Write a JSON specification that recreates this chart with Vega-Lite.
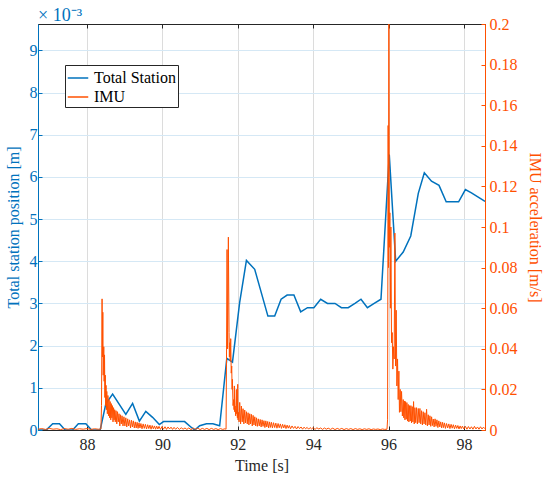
{
  "$schema": "https://vega.github.io/schema/vega-lite/v6.json",
  "width": 447,
  "height": 406,
  "autosize": {"type": "none"},
  "padding": {"left": 38, "top": 24, "right": 65, "bottom": 51},
  "background": "white",
  "title": {
    "text": "× 10⁻³",
    "anchor": "start",
    "frame": "group",
    "color": "#0072BD",
    "font": "Liberation Serif",
    "fontSize": 18,
    "fontWeight": "normal",
    "offset": -9
  },
  "config": {
    "view": {"stroke": "#262626", "strokeWidth": 1},
    "font": "Liberation Serif",
    "style": {
      "guide-label": {"font": "Liberation Serif"},
      "guide-title": {"font": "Liberation Serif"}
    },
    "legend": {"labelFont": "Liberation Serif"},
    "axis": {
      "labelFont": "Liberation Serif",
      "labelFontSize": 16,
      "titleFont": "Liberation Serif",
      "titleFontSize": 16,
      "titleFontWeight": "normal",
      "tickSize": -4,
      "domainWidth": 1,
      "gridWidth": 1
    }
  },
  "datasets": {
    "ts": [
      {"t": 86.70, "pos": 0},
      {"t": 86.92, "pos": 0},
      {"t": 87.09, "pos": 0.00015},
      {"t": 87.27, "pos": 0.00015},
      {"t": 87.42, "pos": 0},
      {"t": 87.62, "pos": 0},
      {"t": 87.77, "pos": 0.00015},
      {"t": 87.97, "pos": 0.00015},
      {"t": 88.12, "pos": 0},
      {"t": 88.35, "pos": 0},
      {"t": 88.50, "pos": 0.00062},
      {"t": 88.68, "pos": 0.00085},
      {"t": 89.03, "pos": 0.00037},
      {"t": 89.21, "pos": 0.00063},
      {"t": 89.39, "pos": 0.00021},
      {"t": 89.56, "pos": 0.00044},
      {"t": 89.74, "pos": 0.00030},
      {"t": 89.92, "pos": 0.00013},
      {"t": 90.03, "pos": 0.0002},
      {"t": 90.59, "pos": 0.0002},
      {"t": 90.77, "pos": 0.00006},
      {"t": 90.86, "pos": 0},
      {"t": 90.99, "pos": 0.0001},
      {"t": 91.17, "pos": 0.00015},
      {"t": 91.34, "pos": 0.00015},
      {"t": 91.52, "pos": 0.0001},
      {"t": 91.71, "pos": 0.0017},
      {"t": 91.86, "pos": 0.00161},
      {"t": 92.05, "pos": 0.00302},
      {"t": 92.23, "pos": 0.00402},
      {"t": 92.45, "pos": 0.00381},
      {"t": 92.80, "pos": 0.0027},
      {"t": 92.98, "pos": 0.0027},
      {"t": 93.15, "pos": 0.0031},
      {"t": 93.31, "pos": 0.0032},
      {"t": 93.49, "pos": 0.0032},
      {"t": 93.67, "pos": 0.0028},
      {"t": 93.85, "pos": 0.0029},
      {"t": 94.02, "pos": 0.0029},
      {"t": 94.20, "pos": 0.0031},
      {"t": 94.38, "pos": 0.0030},
      {"t": 94.58, "pos": 0.0030},
      {"t": 94.75, "pos": 0.0029},
      {"t": 94.93, "pos": 0.0029},
      {"t": 95.11, "pos": 0.0030},
      {"t": 95.27, "pos": 0.0031},
      {"t": 95.44, "pos": 0.0029},
      {"t": 95.62, "pos": 0.0030},
      {"t": 95.80, "pos": 0.0031},
      {"t": 96.02, "pos": 0.00653},
      {"t": 96.19, "pos": 0.0040},
      {"t": 96.39, "pos": 0.00422},
      {"t": 96.59, "pos": 0.0046},
      {"t": 96.79, "pos": 0.00561},
      {"t": 96.95, "pos": 0.0061},
      {"t": 97.14, "pos": 0.0059},
      {"t": 97.34, "pos": 0.0058},
      {"t": 97.53, "pos": 0.00541},
      {"t": 97.86, "pos": 0.00541},
      {"t": 98.04, "pos": 0.0057},
      {"t": 98.20, "pos": 0.00562},
      {"t": 98.38, "pos": 0.00552},
      {"t": 98.56, "pos": 0.00542}
    ],
    "imu": [
      {"t": 86.70, "acc": 0.0004}, {"t": 86.80, "acc": 0.0007}, {"t": 86.90, "acc": 0.0003},
      {"t": 87.00, "acc": 0.0008}, {"t": 87.10, "acc": 0.0004}, {"t": 87.20, "acc": 0.0006},
      {"t": 87.30, "acc": 0.0002}, {"t": 87.40, "acc": 0.0007}, {"t": 87.50, "acc": 0.0004},
      {"t": 87.60, "acc": 0.0008}, {"t": 87.70, "acc": 0.0003}, {"t": 87.80, "acc": 0.0006},
      {"t": 87.90, "acc": 0.0004}, {"t": 88.00, "acc": 0.0007}, {"t": 88.10, "acc": 0.0003},
      {"t": 88.20, "acc": 0.0006}, {"t": 88.30, "acc": 0.0004}, {"t": 88.37, "acc": 0.0005},
      {"t": 88.385, "acc": 0.012}, {"t": 88.400, "acc": 0.0646}, {"t": 88.410, "acc": 0.036},
      {"t": 88.420, "acc": 0.058}, {"t": 88.430, "acc": 0.027}, {"t": 88.445, "acc": 0.041},
      {"t": 88.455, "acc": 0.024}, {"t": 88.465, "acc": 0.037}, {"t": 88.475, "acc": 0.016},
      {"t": 88.485, "acc": 0.027}, {"t": 88.495, "acc": 0.012}, {"t": 88.505, "acc": 0.022},
      {"t": 88.515, "acc": 0.010}, {"t": 88.525, "acc": 0.019}, {"t": 88.540, "acc": 0.008},
      {"t": 88.555, "acc": 0.017}, {"t": 88.570, "acc": 0.007}, {"t": 88.585, "acc": 0.015},
      {"t": 88.600, "acc": 0.006}, {"t": 88.615, "acc": 0.014}, {"t": 88.630, "acc": 0.005},
      {"t": 88.645, "acc": 0.013}, {"t": 88.660, "acc": 0.006}, {"t": 88.675, "acc": 0.012},
      {"t": 88.690, "acc": 0.004}, {"t": 88.705, "acc": 0.011}, {"t": 88.720, "acc": 0.005},
      {"t": 88.735, "acc": 0.010}, {"t": 88.750, "acc": 0.004}, {"t": 88.770, "acc": 0.0095},
      {"t": 88.790, "acc": 0.003}, {"t": 88.810, "acc": 0.009}, {"t": 88.830, "acc": 0.004},
      {"t": 88.850, "acc": 0.008}, {"t": 88.870, "acc": 0.002}, {"t": 88.890, "acc": 0.0075},
      {"t": 88.910, "acc": 0.003}, {"t": 88.930, "acc": 0.007}, {"t": 88.955, "acc": 0.002},
      {"t": 88.980, "acc": 0.0065}, {"t": 89.005, "acc": 0.002}, {"t": 89.030, "acc": 0.006},
      {"t": 89.055, "acc": 0.0015}, {"t": 89.080, "acc": 0.0055}, {"t": 89.105, "acc": 0.002},
      {"t": 89.130, "acc": 0.005}, {"t": 89.155, "acc": 0.001}, {"t": 89.180, "acc": 0.0048},
      {"t": 89.205, "acc": 0.0015}, {"t": 89.230, "acc": 0.0045}, {"t": 89.255, "acc": 0.001},
      {"t": 89.280, "acc": 0.004}, {"t": 89.305, "acc": 0.001}, {"t": 89.330, "acc": 0.0038},
      {"t": 89.355, "acc": 0.0008}, {"t": 89.380, "acc": 0.0035}, {"t": 89.405, "acc": 0.001},
      {"t": 89.430, "acc": 0.0032}, {"t": 89.460, "acc": 0.0006}, {"t": 89.490, "acc": 0.003},
      {"t": 89.520, "acc": 0.0008}, {"t": 89.550, "acc": 0.0028}, {"t": 89.580, "acc": 0.0005},
      {"t": 89.610, "acc": 0.0026}, {"t": 89.640, "acc": 0.0007}, {"t": 89.670, "acc": 0.0024},
      {"t": 89.700, "acc": 0.0004}, {"t": 89.730, "acc": 0.0022}, {"t": 89.760, "acc": 0.0006},
      {"t": 89.790, "acc": 0.002}, {"t": 89.820, "acc": 0.0004}, {"t": 89.850, "acc": 0.0019},
      {"t": 89.880, "acc": 0.0005}, {"t": 89.910, "acc": 0.0018}, {"t": 89.950, "acc": 0.0003},
      {"t": 89.990, "acc": 0.0017}, {"t": 90.030, "acc": 0.0004}, {"t": 90.070, "acc": 0.0016},
      {"t": 90.110, "acc": 0.0003}, {"t": 90.150, "acc": 0.0015}, {"t": 90.190, "acc": 0.0005},
      {"t": 90.230, "acc": 0.0014}, {"t": 90.270, "acc": 0.0003}, {"t": 90.310, "acc": 0.0013},
      {"t": 90.350, "acc": 0.0004}, {"t": 90.400, "acc": 0.0012}, {"t": 90.450, "acc": 0.0003},
      {"t": 90.500, "acc": 0.0011}, {"t": 90.550, "acc": 0.0004}, {"t": 90.600, "acc": 0.001},
      {"t": 90.650, "acc": 0.0003}, {"t": 90.700, "acc": 0.001}, {"t": 90.760, "acc": 0.0002},
      {"t": 90.820, "acc": 0.0009}, {"t": 90.880, "acc": 0.0003}, {"t": 90.940, "acc": 0.0009},
      {"t": 91.000, "acc": 0.0002}, {"t": 91.060, "acc": 0.0008}, {"t": 91.120, "acc": 0.0003},
      {"t": 91.180, "acc": 0.0008}, {"t": 91.240, "acc": 0.0002}, {"t": 91.300, "acc": 0.0008},
      {"t": 91.360, "acc": 0.0003}, {"t": 91.420, "acc": 0.0007}, {"t": 91.480, "acc": 0.0002},
      {"t": 91.540, "acc": 0.0007}, {"t": 91.600, "acc": 0.0003}, {"t": 91.660, "acc": 0.0006},
      {"t": 91.690, "acc": 0.0004},
      {"t": 91.700, "acc": 0.030}, {"t": 91.716, "acc": 0.0889}, {"t": 91.730, "acc": 0.040},
      {"t": 91.751, "acc": 0.095}, {"t": 91.769, "acc": 0.048}, {"t": 91.778, "acc": 0.036},
      {"t": 91.787, "acc": 0.043}, {"t": 91.800, "acc": 0.034}, {"t": 91.813, "acc": 0.045},
      {"t": 91.827, "acc": 0.028}, {"t": 91.840, "acc": 0.0315}, {"t": 91.850, "acc": 0.020},
      {"t": 91.857, "acc": 0.025}, {"t": 91.875, "acc": 0.012}, {"t": 91.893, "acc": 0.015},
      {"t": 91.902, "acc": 0.010}, {"t": 91.910, "acc": 0.0217}, {"t": 91.919, "acc": 0.009},
      {"t": 91.928, "acc": 0.0118}, {"t": 91.945, "acc": 0.007}, {"t": 91.963, "acc": 0.020},
      {"t": 91.972, "acc": 0.008}, {"t": 91.981, "acc": 0.0102}, {"t": 91.990, "acc": 0.006},
      {"t": 91.999, "acc": 0.0225}, {"t": 92.008, "acc": 0.005}, {"t": 92.017, "acc": 0.0087},
      {"t": 92.035, "acc": 0.004}, {"t": 92.052, "acc": 0.0136}, {"t": 92.075, "acc": 0.003},
      {"t": 92.096, "acc": 0.0118}, {"t": 92.118, "acc": 0.004}, {"t": 92.140, "acc": 0.0105},
      {"t": 92.162, "acc": 0.003}, {"t": 92.185, "acc": 0.0098}, {"t": 92.207, "acc": 0.0035},
      {"t": 92.230, "acc": 0.009}, {"t": 92.252, "acc": 0.003}, {"t": 92.274, "acc": 0.0085},
      {"t": 92.296, "acc": 0.0025}, {"t": 92.318, "acc": 0.008}, {"t": 92.340, "acc": 0.003},
      {"t": 92.362, "acc": 0.0077}, {"t": 92.385, "acc": 0.002}, {"t": 92.407, "acc": 0.0072},
      {"t": 92.430, "acc": 0.0025}, {"t": 92.452, "acc": 0.0065}, {"t": 92.475, "acc": 0.002},
      {"t": 92.497, "acc": 0.006}, {"t": 92.520, "acc": 0.0018}, {"t": 92.545, "acc": 0.0055},
      {"t": 92.570, "acc": 0.002}, {"t": 92.595, "acc": 0.0052}, {"t": 92.620, "acc": 0.0015},
      {"t": 92.645, "acc": 0.005}, {"t": 92.670, "acc": 0.0018}, {"t": 92.695, "acc": 0.0046},
      {"t": 92.720, "acc": 0.0012}, {"t": 92.745, "acc": 0.0045}, {"t": 92.770, "acc": 0.0015},
      {"t": 92.795, "acc": 0.0042}, {"t": 92.820, "acc": 0.001}, {"t": 92.845, "acc": 0.004},
      {"t": 92.870, "acc": 0.0013}, {"t": 92.895, "acc": 0.0038}, {"t": 92.920, "acc": 0.001},
      {"t": 92.950, "acc": 0.0036}, {"t": 92.980, "acc": 0.0012}, {"t": 93.010, "acc": 0.0034},
      {"t": 93.040, "acc": 0.0009}, {"t": 93.070, "acc": 0.0032}, {"t": 93.100, "acc": 0.0011},
      {"t": 93.130, "acc": 0.003}, {"t": 93.160, "acc": 0.0008}, {"t": 93.190, "acc": 0.0028},
      {"t": 93.220, "acc": 0.001}, {"t": 93.250, "acc": 0.0026}, {"t": 93.280, "acc": 0.0007},
      {"t": 93.310, "acc": 0.0024}, {"t": 93.340, "acc": 0.0009}, {"t": 93.370, "acc": 0.0022},
      {"t": 93.400, "acc": 0.0006}, {"t": 93.440, "acc": 0.002}, {"t": 93.480, "acc": 0.0008},
      {"t": 93.520, "acc": 0.0018}, {"t": 93.560, "acc": 0.0005}, {"t": 93.600, "acc": 0.0017},
      {"t": 93.640, "acc": 0.0007}, {"t": 93.680, "acc": 0.0015}, {"t": 93.720, "acc": 0.0004},
      {"t": 93.760, "acc": 0.0014}, {"t": 93.800, "acc": 0.0006}, {"t": 93.840, "acc": 0.0013},
      {"t": 93.880, "acc": 0.0004}, {"t": 93.920, "acc": 0.0012}, {"t": 93.960, "acc": 0.0005},
      {"t": 94.000, "acc": 0.0012}, {"t": 94.050, "acc": 0.0003}, {"t": 94.100, "acc": 0.0011},
      {"t": 94.150, "acc": 0.0005}, {"t": 94.200, "acc": 0.001}, {"t": 94.250, "acc": 0.0003},
      {"t": 94.300, "acc": 0.001}, {"t": 94.350, "acc": 0.0004}, {"t": 94.400, "acc": 0.0009},
      {"t": 94.460, "acc": 0.0003}, {"t": 94.520, "acc": 0.0009}, {"t": 94.580, "acc": 0.0002},
      {"t": 94.640, "acc": 0.0008}, {"t": 94.700, "acc": 0.0003}, {"t": 94.760, "acc": 0.0008},
      {"t": 94.820, "acc": 0.0002}, {"t": 94.880, "acc": 0.0007}, {"t": 94.940, "acc": 0.0003},
      {"t": 95.000, "acc": 0.0007}, {"t": 95.060, "acc": 0.0002}, {"t": 95.120, "acc": 0.0007},
      {"t": 95.180, "acc": 0.0003}, {"t": 95.240, "acc": 0.0006}, {"t": 95.300, "acc": 0.0002},
      {"t": 95.360, "acc": 0.0006}, {"t": 95.420, "acc": 0.0003}, {"t": 95.480, "acc": 0.0006},
      {"t": 95.540, "acc": 0.0002}, {"t": 95.600, "acc": 0.0005}, {"t": 95.660, "acc": 0.0003},
      {"t": 95.720, "acc": 0.0005}, {"t": 95.780, "acc": 0.0002}, {"t": 95.840, "acc": 0.0005},
      {"t": 95.900, "acc": 0.0003}, {"t": 95.960, "acc": 0.0004},
      {"t": 95.975, "acc": 0.005}, {"t": 95.990, "acc": 0.150}, {"t": 96.000, "acc": 0.080},
      {"t": 96.009, "acc": 0.200}, {"t": 96.022, "acc": 0.090}, {"t": 96.036, "acc": 0.107},
      {"t": 96.050, "acc": 0.060}, {"t": 96.063, "acc": 0.100}, {"t": 96.080, "acc": 0.043},
      {"t": 96.098, "acc": 0.048}, {"t": 96.115, "acc": 0.030}, {"t": 96.133, "acc": 0.041},
      {"t": 96.150, "acc": 0.035}, {"t": 96.169, "acc": 0.097}, {"t": 96.187, "acc": 0.0315},
      {"t": 96.204, "acc": 0.059}, {"t": 96.222, "acc": 0.0217}, {"t": 96.240, "acc": 0.035},
      {"t": 96.257, "acc": 0.015}, {"t": 96.275, "acc": 0.029}, {"t": 96.290, "acc": 0.0087},
      {"t": 96.310, "acc": 0.020}, {"t": 96.328, "acc": 0.009}, {"t": 96.346, "acc": 0.019},
      {"t": 96.368, "acc": 0.0069}, {"t": 96.390, "acc": 0.015}, {"t": 96.405, "acc": 0.006},
      {"t": 96.420, "acc": 0.0143}, {"t": 96.436, "acc": 0.005}, {"t": 96.452, "acc": 0.014},
      {"t": 96.470, "acc": 0.0053}, {"t": 96.487, "acc": 0.0135}, {"t": 96.505, "acc": 0.0044},
      {"t": 96.523, "acc": 0.0126}, {"t": 96.540, "acc": 0.004}, {"t": 96.558, "acc": 0.012},
      {"t": 96.576, "acc": 0.0044}, {"t": 96.594, "acc": 0.012}, {"t": 96.611, "acc": 0.0035},
      {"t": 96.629, "acc": 0.0115}, {"t": 96.647, "acc": 0.004}, {"t": 96.665, "acc": 0.014},
      {"t": 96.682, "acc": 0.003}, {"t": 96.700, "acc": 0.011}, {"t": 96.722, "acc": 0.0036},
      {"t": 96.744, "acc": 0.011}, {"t": 96.766, "acc": 0.003}, {"t": 96.789, "acc": 0.0106},
      {"t": 96.811, "acc": 0.0036}, {"t": 96.833, "acc": 0.0106}, {"t": 96.855, "acc": 0.003},
      {"t": 96.877, "acc": 0.0095}, {"t": 96.899, "acc": 0.0025}, {"t": 96.921, "acc": 0.009},
      {"t": 96.943, "acc": 0.003}, {"t": 96.966, "acc": 0.0085}, {"t": 96.988, "acc": 0.0025},
      {"t": 97.010, "acc": 0.0102}, {"t": 97.032, "acc": 0.002}, {"t": 97.054, "acc": 0.0075},
      {"t": 97.076, "acc": 0.0025}, {"t": 97.099, "acc": 0.007}, {"t": 97.121, "acc": 0.0018},
      {"t": 97.143, "acc": 0.0065}, {"t": 97.165, "acc": 0.0022}, {"t": 97.187, "acc": 0.0054},
      {"t": 97.210, "acc": 0.0015}, {"t": 97.235, "acc": 0.0055}, {"t": 97.260, "acc": 0.0018},
      {"t": 97.285, "acc": 0.005}, {"t": 97.310, "acc": 0.0012}, {"t": 97.335, "acc": 0.0045},
      {"t": 97.360, "acc": 0.0015}, {"t": 97.385, "acc": 0.004}, {"t": 97.410, "acc": 0.001},
      {"t": 97.435, "acc": 0.0038}, {"t": 97.460, "acc": 0.0012}, {"t": 97.485, "acc": 0.0035},
      {"t": 97.510, "acc": 0.0008}, {"t": 97.540, "acc": 0.0032}, {"t": 97.570, "acc": 0.001},
      {"t": 97.600, "acc": 0.003}, {"t": 97.630, "acc": 0.0007}, {"t": 97.660, "acc": 0.0028},
      {"t": 97.690, "acc": 0.0009}, {"t": 97.720, "acc": 0.0026}, {"t": 97.750, "acc": 0.0006},
      {"t": 97.780, "acc": 0.0024}, {"t": 97.810, "acc": 0.0008}, {"t": 97.840, "acc": 0.0022},
      {"t": 97.870, "acc": 0.0005}, {"t": 97.900, "acc": 0.002}, {"t": 97.930, "acc": 0.0007},
      {"t": 97.960, "acc": 0.0019}, {"t": 98.000, "acc": 0.0005}, {"t": 98.040, "acc": 0.0018},
      {"t": 98.080, "acc": 0.0004}, {"t": 98.120, "acc": 0.0017}, {"t": 98.160, "acc": 0.0005},
      {"t": 98.200, "acc": 0.0016}, {"t": 98.240, "acc": 0.0004}, {"t": 98.280, "acc": 0.0018},
      {"t": 98.320, "acc": 0.0005}, {"t": 98.360, "acc": 0.0015}, {"t": 98.400, "acc": 0.0004},
      {"t": 98.440, "acc": 0.0016}, {"t": 98.480, "acc": 0.0005}, {"t": 98.520, "acc": 0.0014},
      {"t": 98.560, "acc": 0.0006}
    ]
  },
  "layer": [
    {
      "data": {"name": "ts"},
      "mark": {"type": "line", "strokeWidth": 1.5, "clip": true},
      "encoding": {
        "x": {
          "field": "t",
          "type": "quantitative",
          "scale": {"domain": [86.7, 98.56], "nice": false, "zero": false},
          "axis": {
            "orient": "bottom",
            "title": "Time [s]",
            "values": [88, 90, 92, 94, 96, 98],
            "grid": true,
            "gridColor": "#dcdcdc",
            "domainColor": "#262626",
            "tickColor": "#262626",
            "labelColor": "#262626",
            "titleColor": "#262626",
            "labelPadding": 10,
            "titlePadding": 5
          }
        },
        "y": {
          "field": "pos",
          "type": "quantitative",
          "scale": {"domain": [0, 0.009626], "nice": false},
          "axis": {
            "orient": "left",
            "title": "Total station position [m]",
            "values": [0, 0.001, 0.002, 0.003, 0.004, 0.005, 0.006, 0.007, 0.008, 0.009],
            "labelExpr": "format(datum.value * 1000, '.0f')",
            "grid": true,
            "gridColor": "#d5e8f5",
            "domainColor": "#0072BD",
            "tickColor": "#0072BD",
            "labelColor": "#0072BD",
            "titleColor": "#0072BD",
            "labelPadding": 5,
            "titlePadding": 8
          }
        },
        "color": {
          "datum": "Total Station",
          "type": "nominal",
          "scale": {"domain": ["Total Station", "IMU"], "range": ["#0072BD", "#FF5000"]},
          "legend": {
            "orient": "none",
            "legendX": 27,
            "legendY": 41,
            "title": null,
            "symbolType": "stroke",
            "symbolStrokeWidth": 1.5,
            "symbolSize": 420,
            "labelFont": "Liberation Serif",
            "labelFontSize": 16,
            "labelColor": "#000000",
            "labelOffset": 5,
            "strokeColor": "#262626",
            "fillColor": "white",
            "padding": 2,
            "rowPadding": 0
          }
        }
      }
    },
    {
      "data": {"name": "imu"},
      "mark": {"type": "line", "strokeWidth": 1, "clip": true},
      "encoding": {
        "x": {
          "field": "t",
          "type": "quantitative",
          "axis": {
            "orient": "top",
            "title": null,
            "labels": false,
            "values": [88, 90, 92, 94, 96, 98],
            "grid": false,
            "domainColor": "#262626",
            "tickColor": "#262626"
          }
        },
        "y": {
          "field": "acc",
          "type": "quantitative",
          "scale": {"domain": [0, 0.2], "nice": false},
          "axis": {
            "orient": "right",
            "title": "IMU acceleration [m/s]",
            "values": [0, 0.02, 0.04, 0.06, 0.08, 0.1, 0.12, 0.14, 0.16, 0.18, 0.2],
            "format": "~g",
            "grid": false,
            "domainColor": "#FF5000",
            "tickColor": "#FF5000",
            "labelColor": "#FF5000",
            "titleColor": "#FF5000",
            "labelPadding": 8,
            "titlePadding": 9
          }
        },
        "color": {"datum": "IMU", "type": "nominal"}
      }
    }
  ],
  "resolve": {"scale": {"y": "independent"}, "axis": {"x": "independent"}}
}
